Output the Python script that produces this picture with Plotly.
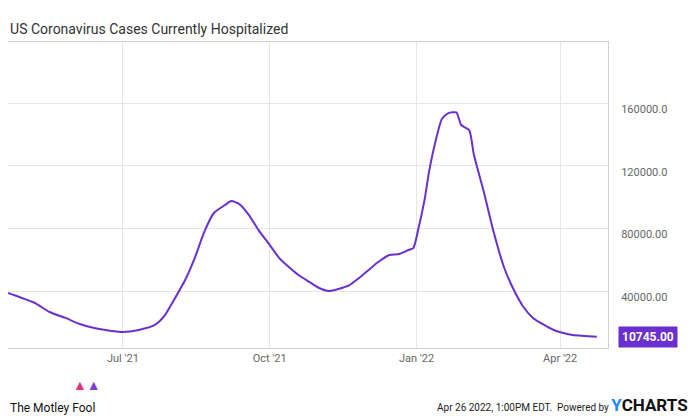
import plotly.graph_objects as go

dates = ["2021-04-20","2021-04-27","2021-05-07","2021-05-16","2021-05-26","2021-06-04","2021-06-13","2021-06-20",
 "2021-07-01","2021-07-11","2021-07-21","2021-07-27","2021-08-02","2021-08-09","2021-08-15","2021-08-21","2021-08-27",
 "2021-09-03","2021-09-07","2021-09-12","2021-09-18","2021-09-24","2021-10-01","2021-10-07","2021-10-13","2021-10-19",
 "2021-10-26","2021-11-01","2021-11-07","2021-11-13","2021-11-20","2021-11-26","2021-12-02","2021-12-08","2021-12-15",
 "2021-12-21","2021-12-27","2021-12-30","2022-01-02","2022-01-06","2022-01-09","2022-01-13","2022-01-17","2022-01-21",
 "2022-01-26","2022-01-29","2022-02-03","2022-02-06","2022-02-12","2022-02-18","2022-02-25","2022-03-03","2022-03-09",
 "2022-03-15","2022-03-22","2022-03-28","2022-04-03","2022-04-09","2022-04-16","2022-04-24"]
values = [38700,36200,32300,26600,22800,18900,16400,15100,13800,15100,18300,24100,34300,47000,61000,77700,89800,
 94900,97400,95500,88500,78900,69400,61000,55300,50200,45700,41900,40000,41300,43800,48300,53400,58500,63000,
 63600,66200,67400,78900,98000,117000,136000,150000,153600,154000,146000,142700,126800,104000,79000,54700,40600,
 29800,22800,18300,15100,13200,11900,11300,10745]
tick_vals = [40000,80000,120000,160000]
tick_text = ["40000.00","80000.00","120000.0","160000.0"]
x_ticks = ["2021-07-01","2021-10-01","2022-01-01","2022-04-01"]
x_text = ["Jul '21","Oct '21","Jan '22","Apr '22"]
last_label = "10745.00"

purple = "#6a2fd1"
fig = go.Figure(go.Scatter(x=dates, y=values, mode="lines",
                           line=dict(color=purple, width=2, shape="spline", smoothing=0.6),
                           hoverinfo="skip"))
fig.update_layout(
    width=692, height=412, paper_bgcolor="white", plot_bgcolor="white",
    margin=dict(l=0, r=92, t=34, b=72, autoexpand=False), showlegend=False,
    font=dict(family="Roboto, sans-serif", color="#555"),
    title=dict(text="US Coronavirus Cases Currently Hospitalized", x=0.003, y=0.96, xanchor="left",
               font=dict(size=14, color="#333")),
)
fig.update_xaxes(range=["2021-04-20","2022-05-01"], tickvals=x_ticks, ticktext=x_text, showgrid=True,
                 gridcolor="#e6e6e6", showline=True, linecolor="#d0d0d0", mirror=True, ticks="",
                 tickfont=dict(size=11, color="#666"))
fig.update_yaxes(range=[3600, 199000], side="right", tickvals=tick_vals, ticktext=tick_text, showgrid=True,
                 gridcolor="#e6e6e6", showline=True, linecolor="#d0d0d0", mirror=True, zeroline=False,
                 ticks="", ticklabelshift=6, ticklabelstandoff=10, tickfont=dict(size=11, color="#666"))
fig.add_annotation(x=1.0, xref="paper", xshift=10, y=values[-1], yref="y", text="<b>"+last_label+"</b>",
                   xanchor="left", showarrow=False, bgcolor=purple, font=dict(color="white", size=12),
                   borderpad=3)
fig.add_annotation(x=0.0, xref="paper", y=-0.225, yref="paper", text="The Motley Fool", showarrow=False,
                   xanchor="left", font=dict(size=12, color="#111", family="Roboto"))
fig.add_annotation(x=0.105, xref="paper", y=-0.155, yref="paper",
                   text="<b><span style='color:#e0307f'>▲</span><span style='color:#7a3fd1'>▲</span></b>",
                   showarrow=False, font=dict(size=14))
fig.add_annotation(x=1.137, xref="paper", y=-0.225, yref="paper",
                   text="Apr 26 2022, 1:00PM EDT.  Powered by <span style='font-size:17px;color:#111'><b><span style='color:#1a8cff'>Y</span>CHARTS</b></span>",
                   showarrow=False, xanchor="right", font=dict(size=10, color="#222"))
fig.write_html("out.html")
